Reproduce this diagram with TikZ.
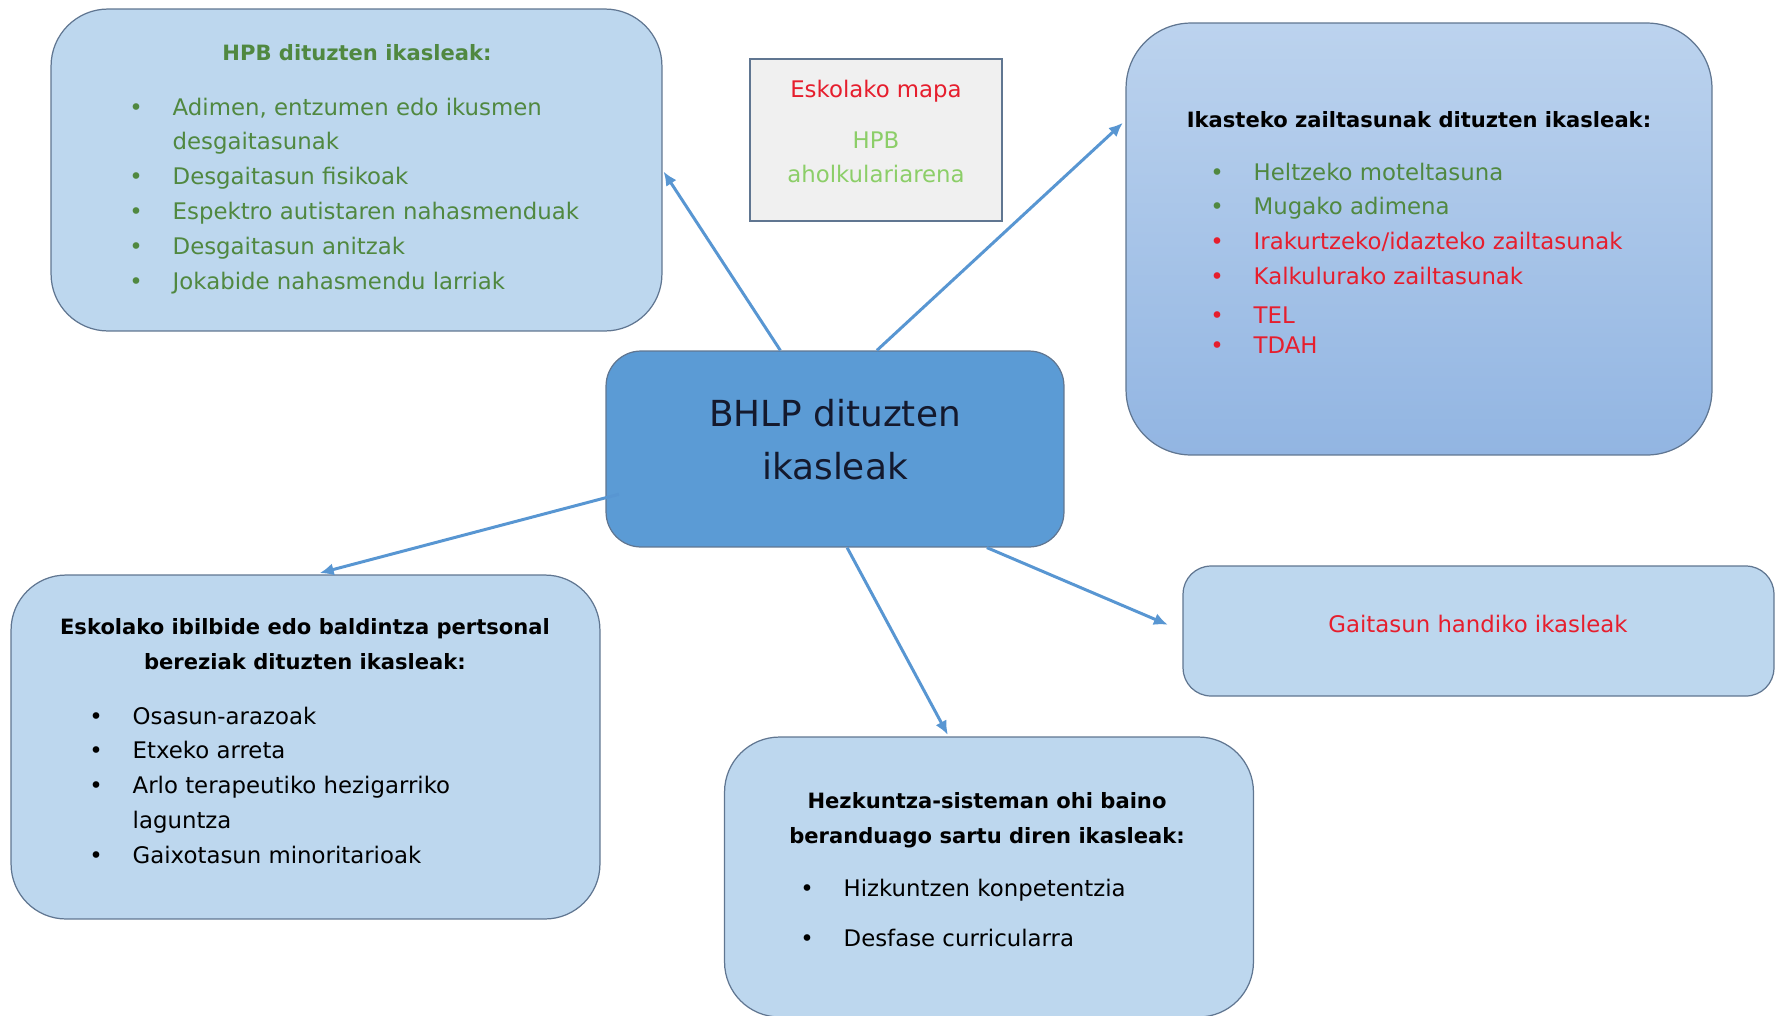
\documentclass[tikz,border=0pt]{standalone}
\usepackage{fontspec}
\setmainfont{DejaVu Sans}
\usetikzlibrary{arrows.meta}
\definecolor{boxblue}{RGB}{189,215,238}
\definecolor{boxline}{RGB}{96,118,145}
\definecolor{hubblue}{RGB}{91,155,213}
\definecolor{linkblue}{RGB}{88,150,210}
\definecolor{shadetop}{RGB}{188,211,238}
\definecolor{shadebot}{RGB}{146,181,226}
\definecolor{mapgrey}{RGB}{240,240,240}
\definecolor{hpbgreen}{RGB}{80,136,64}
\definecolor{lightgreen}{RGB}{140,206,104}
\definecolor{alertred}{RGB}{230,30,45}
\definecolor{hubtext}{RGB}{20,25,45}

\begin{document}
\begin{tikzpicture}[x=0.02cm, y=-0.02cm,
  catbox/.style={draw=boxline, line width=0.7pt, fill=boxblue, inner sep=0pt},
  head/.style={font=\fontsize{12}{20}\selectfont\bfseries, inner sep=0pt, anchor=base},
  items/.style={font=\fontsize{13}{19.9}\selectfont, inner sep=0pt, anchor=base west},
  link/.style={draw=linkblue, line width=1.7pt, -{Latex[length=8pt,width=7pt]}}
]
  \useasboundingbox (0,0) rectangle (1775,1015);

  % boxes
  \node[catbox, rounded corners=1.14cm, minimum width=12.22cm, minimum height=6.44cm] (hpb) at (356.5,170) {};
  \node[draw=boxline, line width=1pt, fill=mapgrey, inner sep=0pt, minimum width=5.04cm, minimum height=3.24cm] (mapa) at (876,140) {};
  \node[catbox, rounded corners=1.3cm, top color=shadetop, bottom color=shadebot, minimum width=11.72cm, minimum height=8.64cm] (ikasteko) at (1419,239) {};
  \node[catbox, rounded corners=0.7cm, fill=hubblue, minimum width=9.16cm, minimum height=3.92cm] (hub) at (835,449) {};
  \node[catbox, rounded corners=1.1cm, minimum width=11.78cm, minimum height=6.88cm] (ibilbide) at (305.5,747) {};
  \node[catbox, rounded corners=1.1cm, minimum width=10.58cm, minimum height=5.6cm] (hezkuntza) at (989,877) {};
  \node[catbox, rounded corners=0.56cm, minimum width=11.82cm, minimum height=2.6cm] (gaitasun) at (1478.5,631) {};

  % arrows
  \draw[link, shorten >=1pt] (hub.119) -- (hpb.east);
  \draw[link, shorten >=2pt] (hub.67) -- (ikasteko.158);
  \draw[link, shorten <=-8pt, shorten >=3pt] (hub.192) -- (ibilbide.87);
  \draw[link, shorten >=1pt] (hub.277) -- (hezkuntza.106);
  \draw[link, shorten >=9pt] (hub.-33) -- (gaitasun.west);

  % texts
  \node[head, text=hpbgreen] (hpbtitle) at (357,60) {HPB dituzten ikasleak:};
  \node[items, text=hpbgreen] (hpblist) at (129,115) {\begin{tabular}[t]{@{}l@{\hspace{17pt}}l@{}}
    \textbullet & Adimen, entzumen edo ikusmen\\
     & desgaitasunak\\
    \textbullet & Desgaitasun fisikoak\\
    \textbullet & Espektro autistaren nahasmenduak\\
    \textbullet & Desgaitasun anitzak\\
    \textbullet & Jokabide nahasmendu larriak
  \end{tabular}};

  \node[items, anchor=base, font=\fontsize{13}{19.4}\selectfont] (mapatext) at (876,97) {\begin{tabular}[t]{@{}c@{}}
    \textcolor{alertred}{Eskolako mapa}\\[10pt]
    \textcolor{lightgreen}{HPB}\\
    \textcolor{lightgreen}{aholkulariarena}
  \end{tabular}};

  \node[head] (iktitle) at (1419,127) {Ikasteko zailtasunak dituzten ikasleak:};
  \node[items] (iklist) at (1210,180) {\begin{tabular}[t]{@{}l@{\hspace{17pt}}l@{}}
    \textcolor{hpbgreen}{\textbullet} & \textcolor{hpbgreen}{Heltzeko moteltasuna}\\
    \textcolor{hpbgreen}{\textbullet} & \textcolor{hpbgreen}{Mugako adimena}\\
    \textcolor{alertred}{\textbullet} & \textcolor{alertred}{Irakurtzeko/idazteko zailtasunak}\\
    \textcolor{alertred}{\textbullet} & \textcolor{alertred}{Kalkulurako zailtasunak}\\[2pt]
    \textcolor{alertred}{\textbullet} & \textcolor{alertred}{TEL}\\[-3pt]
    \textcolor{alertred}{\textbullet} & \textcolor{alertred}{TDAH}
  \end{tabular}};

  \node[font=\fontsize{20.4}{30.7}\selectfont, text=hubtext, inner sep=0pt, anchor=base] (hubtext) at (835,426) {\begin{tabular}[t]{@{}c@{}}
    BHLP dituzten\\
    ikasleak
  \end{tabular}};

  \node[head] (ibtitle) at (305,634) {\begin{tabular}[t]{@{}c@{}}
    Eskolako ibilbide edo baldintza pertsonal\\
    bereziak dituzten ikasleak:
  \end{tabular}};
  \node[items] (iblist) at (89,724) {\begin{tabular}[t]{@{}l@{\hspace{17pt}}l@{}}
    \textbullet & Osasun-arazoak\\
    \textbullet & Etxeko arreta\\
    \textbullet & Arlo terapeutiko hezigarriko\\
     & laguntza\\
    \textbullet & Gaixotasun minoritarioak
  \end{tabular}};

  \node[head] (hztitle) at (987,808) {\begin{tabular}[t]{@{}c@{}}
    Hezkuntza-sisteman ohi baino\\
    beranduago sartu diren ikasleak:
  \end{tabular}};
  \node[items] (hzlist) at (800,896) {\begin{tabular}[t]{@{}l@{\hspace{17pt}}l@{}}
    \textbullet & Hizkuntzen konpetentzia\\[9pt]
    \textbullet & Desfase curricularra
  \end{tabular}};

  \node[items, anchor=base, text=alertred] (gaitext) at (1478,632) {Gaitasun handiko ikasleak};
\end{tikzpicture}
\end{document}
